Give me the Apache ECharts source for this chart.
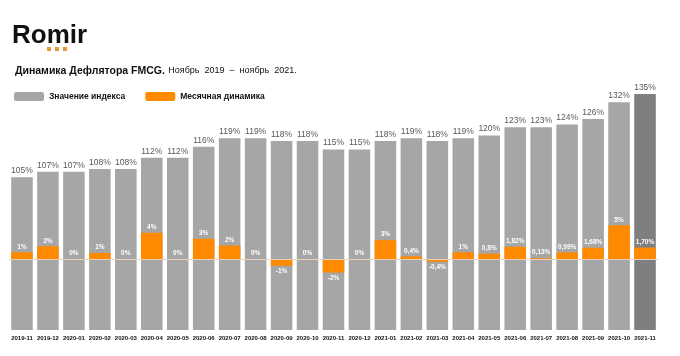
<!DOCTYPE html>
<html>
<head>
<meta charset="utf-8">
<script src="https://cdn.jsdelivr.net/npm/echarts@6/dist/echarts.min.js"></script>
<style>
html,body{margin:0;padding:0;background:#fff;}
#c{width:680px;height:356px;}
</style>
</head>
<body>
<div id="c"></div>
<script>
const categories = ['2019-11','2019-12','2020-01','2020-02','2020-03','2020-04','2020-05','2020-06','2020-07','2020-08','2020-09','2020-10','2020-11','2020-12','2021-01','2021-02','2021-03','2021-04','2021-05','2021-06','2021-07','2021-08','2021-09','2021-10','2021-11'];
const indexValues = [105,107,107,108,108,112,112,116,119,119,118,118,115,115,118,119,118,119,120,123,123,124,126,132,135];
const monthlyValues = [1.0,1.9,0,0.9,0,3.9,0,3.0,2.0,0,-1.0,0,-2.0,0,2.8,0.4,-0.4,1.0,0.8,1.82,0.13,0.99,1.68,5.0,1.70];
const monthlyLabels = ['1%','2%','0%','1%','0%','4%','0%','3%','2%','0%','-1%','0%','-2%','0%','3%','0,4%','-0,4%','1%','0,8%','1,82%','0,13%','0,99%','1,68%','5%','1,70%'];

const FONT = '"Liberation Sans", Arial, sans-serif';
const chart = echarts.init(document.getElementById('c'), null, {renderer:'canvas'});

const grayData = indexValues.map((v,i)=>({
  value: v,
  itemStyle: {color: i === indexValues.length-1 ? '#7f7f7f' : '#a6a6a6'}
}));
const orangeData = monthlyValues.map((v,i)=>({
  value: v,
  label: {position: v < 0 ? 'bottom' : 'top', formatter: monthlyLabels[i]}
}));

chart.setOption({
  backgroundColor:'#fff',
  animation:false,
  textStyle:{fontFamily:FONT},
  graphic:[
    {type:'text', left:12, top:23, style:{text:'Romir', font:'bold 26px '+FONT, fill:'#111'}},
    {type:'rect', shape:{x:47,y:47,width:4,height:4}, style:{fill:'#e59a3a'}},
    {type:'rect', shape:{x:55,y:47,width:4,height:4}, style:{fill:'#e59a3a'}},
    {type:'rect', shape:{x:63,y:47,width:4,height:4}, style:{fill:'#e59a3a'}},
    {type:'text', left:15, top:65, style:{
      text:'{b|Динамика Дефлятора FMCG.} {n|Ноябрь  2019  –  ноябрь  2021.}',
      rich:{
        b:{font:'bold 10.5px '+FONT, fill:'#111'},
        n:{font:'9px '+FONT, fill:'#111'}
      }
    }}
  ],
  legend:{
    left:9, top:87, padding:5,
    itemWidth:30, itemHeight:9, itemGap:20,
    icon:'roundRect',
    textStyle:{fontSize:8.5, fontWeight:'bold', color:'#111', fontFamily:FONT},
    data:['Значение индекса','Месячная динамика']
  },
  grid:{left:9, right:22, top:80, bottom:26},
  xAxis:{
    type:'category', data:categories,
    axisLine:{show:false}, axisTick:{show:false},
    axisLabel:{fontSize:6, fontWeight:'bold', color:'#111', margin:5, interval:0, fontFamily:FONT}
  },
  yAxis:[
    {type:'value', min:50, max:140, show:false, splitLine:{show:false}},
    {type:'value', min:-10.5, max:26.5, show:false, splitLine:{show:false}}
  ],
  series:[
    {
      name:'Значение индекса', type:'bar', yAxisIndex:0,
      data:grayData, barWidth:'83%', barGap:'-100%',
      itemStyle:{color:'#a6a6a6'},
      label:{show:true, position:'top', distance:2, color:'#595959', fontSize:8.5, fontFamily:FONT, formatter:'{c}%'},
      z:2
    },
    {
      name:'Месячная динамика', type:'bar', yAxisIndex:1,
      data:orangeData, barWidth:'83%', barGap:'-100%',
      itemStyle:{color:'#ff8a00'},
      label:{show:true, distance:2, color:'#fff', fontSize:6.5, fontWeight:'bold', fontFamily:FONT},
      markLine:{
        silent:true, symbol:'none', label:{show:false},
        lineStyle:{color:'#e6d2bc', width:1, type:'solid'},
        data:[{yAxis:0}]
      },
      z:3
    }
  ]
});
</script>
</body>
</html>
